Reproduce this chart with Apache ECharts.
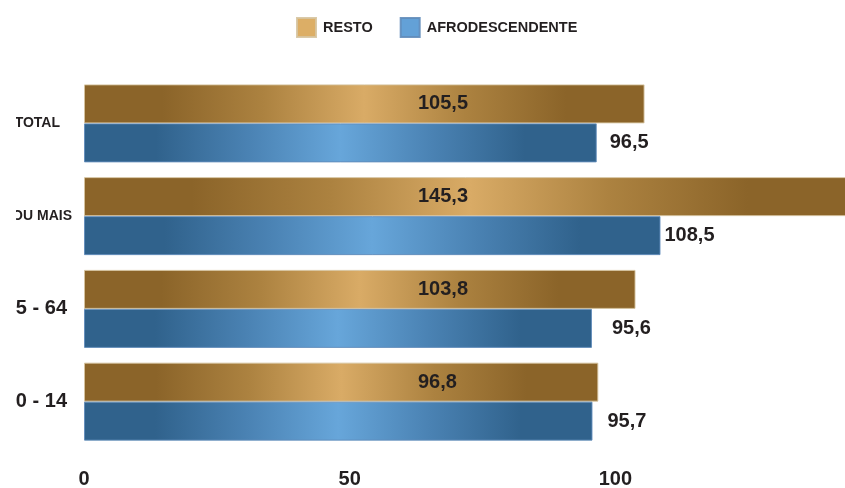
<!DOCTYPE html>
<html>
<head>
<meta charset="utf-8">
<script src="https://cdn.jsdelivr.net/npm/echarts@6/dist/echarts.min.js"></script>
<style>
  html, body { margin: 0; padding: 0; background: #ffffff; }
  #frame { position: absolute; left: 16px; top: 0; width: 829px; height: 488px; overflow: hidden; }
  #chart { position: absolute; left: -16px; top: 0; width: 845px; height: 488px; }
</style>
</head>
<body>
<div id="frame"><div id="chart"></div></div>
<script>
// Age groups, bottom to top
const categories = ['0 - 14', '15 - 64', '65 OU MAIS', 'TOTAL'];
const seriesNames = ['RESTO', 'AFRODESCENDENTE'];
const restoValues = [96.8, 103.8, 145.3, 105.5];
const afroValues = [95.7, 95.6, 108.5, 96.5];
const axisMin = 0;
const axisMax = 150;
const axisStep = 50;

// Gap between each blue bar's end and its value label (px)
const afroLabelGap = [15, 20, 4, 13];
// Rich-text style used for each category label
const categoryLabelStyle = ['num', 'num', 'older', 'total'];

const FONT = "'Liberation Sans', Arial, Helvetica, sans-serif";
const INK = '#231f20';

function sheen(dark, mid, light) {
  return {
    type: 'linear', x: 0, y: 0, x2: 1, y2: 0,
    colorStops: [
      { offset: 0, color: dark },
      { offset: 0.14, color: dark },
      { offset: 0.32, color: mid },
      { offset: 0.5, color: light },
      { offset: 0.68, color: mid },
      { offset: 0.86, color: dark },
      { offset: 1, color: dark }
    ]
  };
}

const fmt = v => String(v).replace('.', ',');

const labelBase = { fontFamily: FONT, fontSize: 20, fontWeight: 'bold', color: INK };

const chart = echarts.init(document.getElementById('chart'), null, { renderer: 'canvas' });

chart.setOption({
  backgroundColor: '#ffffff',
  animation: false,
  textStyle: { fontFamily: FONT },
  legend: {
    left: 296,
    top: 17,
    padding: 0,
    itemWidth: 19,
    itemHeight: 19,
    itemGap: 27,
    icon: 'rect',
    textStyle: { fontFamily: FONT, fontSize: 14.5, fontWeight: 'bold', color: INK, padding: [0, 0, 0, 2] },
    data: [
      { name: seriesNames[0], itemStyle: { color: '#dcae66' } },
      { name: seriesNames[1], itemStyle: { color: '#63a1d7' } }
    ]
  },
  grid: { left: 84, right: -36, top: 77, bottom: 40, containLabel: false, outerBoundsMode: 'none' },
  xAxis: {
    type: 'value',
    min: axisMin,
    max: axisMax,
    interval: axisStep,
    axisLine: { show: false },
    axisTick: { show: false },
    splitLine: { show: false },
    axisLabel: Object.assign({ margin: 21 }, labelBase)
  },
  yAxis: {
    type: 'category',
    data: categories,
    axisLine: { show: false },
    axisTick: { show: false },
    splitLine: { show: false },
    axisLabel: {
      margin: 12,
      align: 'right',
      color: INK,
      formatter: (v, i) => '{' + categoryLabelStyle[i] + '|' + v + '}',
      rich: {
        num: Object.assign({ padding: [0, 5, 0, 0] }, labelBase),
        older: { fontFamily: FONT, fontSize: 14, fontWeight: 'bold', color: INK },
        total: { fontFamily: FONT, fontSize: 14, fontWeight: 'bold', color: INK, padding: [0, 12, 0, 0] }
      }
    }
  },
  series: [
    {
      name: seriesNames[0],
      type: 'bar',
      data: restoValues,
      barWidth: 39,
      barGap: '0%',
      itemStyle: {
        color: sheen('#8b6429', '#ac8240', '#d9ab66'),
        borderColor: 'rgba(214,196,160,0.9)',
        borderWidth: 1
      },
      label: Object.assign({
        show: true,
        position: [334, '50%'],
        align: 'left',
        verticalAlign: 'middle',
        formatter: p => fmt(p.value)
      }, labelBase),
      z: 2
    },
    {
      name: seriesNames[1],
      type: 'bar',
      data: afroValues.map((v, i) => ({ value: v, label: { distance: afroLabelGap[i] } })),
      barWidth: 39,
      barGap: '0%',
      itemStyle: {
        color: sheen('#30628c', '#4a82b3', '#67a6da'),
        borderColor: 'rgba(96,140,186,0.9)',
        borderWidth: 1
      },
      label: Object.assign({
        show: true,
        position: 'right',
        formatter: p => fmt(p.value)
      }, labelBase),
      z: 2
    }
  ]
});
</script>
</body>
</html>
